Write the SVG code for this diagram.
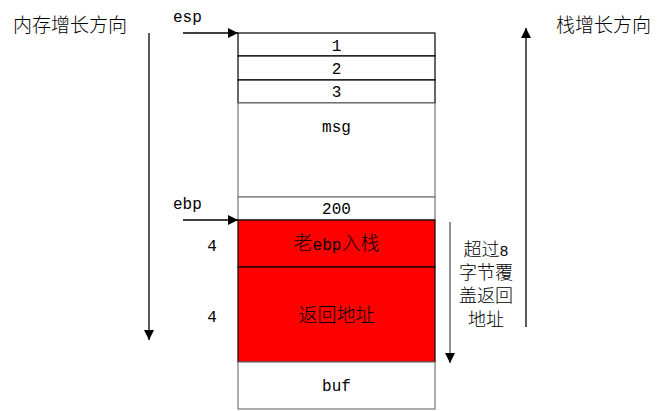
<svg xmlns="http://www.w3.org/2000/svg" width="667" height="411" viewBox="0 0 667 411">
<style>
text{font-family:"Liberation Mono","Noto Sans CJK SC",monospace;font-size:16px;fill:#000;}
.k{font-family:"Noto Sans CJK SC",sans-serif;font-size:19px;font-weight:300;}
.c{text-anchor:middle;}
.cell{fill:#fff;stroke:#000;stroke-width:1.2;}
.red{fill:#ff0000;stroke:#000;stroke-width:1.2;}
.ln{stroke:#000;stroke-width:1.3;fill:none;}
</style>
<defs>
<marker id="ah" viewBox="0 0 10 10" refX="10" refY="5" markerWidth="10" markerHeight="10" markerUnits="userSpaceOnUse" orient="auto">
<path d="M0,0 L10,5 L0,10 z" fill="#000"/>
</marker>
</defs>
<rect width="667" height="411" fill="#fff"/>
<g id="mem-dir"><text x="13" y="32" class="k">内存增长方向</text></g>
<g id="stack-dir"><text x="556" y="32" class="k">栈增长方向</text></g>
<g id="esp-label"><text x="173" y="22">esp</text></g>
<g id="ebp-label"><text x="173" y="209">ebp</text></g>
<g id="n4a"><text x="212" y="251" class="c">4</text></g>
<g id="n4b"><text x="212" y="322" class="c">4</text></g>
<g id="cell1"><rect class="cell" x="238" y="33" width="197" height="23"/><text x="336.5" y="51" class="c">1</text></g>
<g id="cell2"><rect class="cell" x="238" y="56" width="197" height="24"/><text x="336.5" y="74" class="c">2</text></g>
<g id="cell3"><rect class="cell" x="238" y="80" width="197" height="23"/><text x="336.5" y="97" class="c">3</text></g>
<g id="msg"><rect class="cell" x="238" y="103" width="197" height="94" style="stroke:#777"/><text x="336.5" y="132" class="c">msg</text></g>
<g id="cell200"><rect class="cell" x="238" y="197" width="197" height="23" style="stroke:#777"/><text x="336.5" y="214" class="c">200</text></g>
<g id="oldebp"><rect class="red" x="238" y="220" width="197" height="47"/><text x="336.5" y="250" class="c"><tspan class="k">老</tspan>ebp<tspan class="k">入栈</tspan></text></g>
<g id="ret"><rect class="red" x="238" y="267" width="197" height="95"/><text x="336.5" y="322" class="c k">返回地址</text></g>
<g id="buf"><rect class="cell" x="238" y="362" width="197" height="47" style="stroke:#777"/><text x="336.5" y="391" class="c">buf</text></g>
<g id="overflow-note">
<text class="c" style="font-size:15px"><tspan x="486" y="256"><tspan class="k" style="font-size:18px">超过</tspan>8</tspan><tspan x="486" y="279" class="k" style="font-size:18px">字节覆</tspan><tspan x="486" y="302" class="k" style="font-size:18px">盖返回</tspan><tspan x="486" y="326" class="k" style="font-size:18px">地址</tspan></text>
</g>
<g id="connectors">
<line class="ln" x1="183" y1="33" x2="238" y2="33" marker-end="url(#ah)"/>
<line class="ln" x1="183" y1="220" x2="238" y2="220" marker-end="url(#ah)"/>
<line class="ln" x1="149" y1="33" x2="149" y2="340" marker-end="url(#ah)"/>
<line class="ln" x1="450" y1="222" x2="450" y2="363" marker-end="url(#ah)" style="stroke:#555"/>
<line class="ln" x1="526" y1="327" x2="526" y2="28" marker-end="url(#ah)"/>
</g>
</svg>
